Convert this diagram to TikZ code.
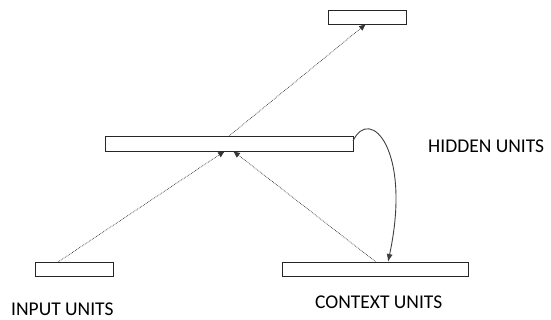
\documentclass[tikz,border=0pt]{standalone}
\usepackage{fontspec}
\setmainfont{Carlito}
\usetikzlibrary{arrows.meta}
\begin{document}
\begin{tikzpicture}[x=1pt,y=-1pt,
  unit/.style={draw=black!85,line width=0.9pt,fill=white,inner sep=0pt,anchor=north west},
  link/.style={densely dotted,draw=black!80,line width=0.7pt,-{Latex[length=7pt,width=6pt]}},
  label/.style={font=\fontsize{19.5}{20}\selectfont,text=black,inner sep=0pt}]
\useasboundingbox (0,0) rectangle (551,320);
% layers
\node[unit,minimum width=78pt,minimum height=14pt] (out) at (328,10) {};
\node[unit,minimum width=248pt,minimum height=15pt] (hid) at (105,136) {};
\node[unit,minimum width=78pt,minimum height=14pt] (inp) at (35,262) {};
\node[unit,minimum width=186pt,minimum height=14pt] (ctx) at (282,262) {};
% feed-forward connections
\coordinate (inpT) at (58,262);
\coordinate (ctxT) at (376,262);
\coordinate (hidB1) at (225,151);
\coordinate (hidB2) at (233,151);
\coordinate (hidT) at (229,136);
\coordinate (outB) at (366,24);
\draw[link] (inpT) -- (hidB1);
\draw[link] (ctxT) -- (hidB2);
\draw[link] (hidT) -- (outB);
% recurrent copy to context units
\coordinate (hidR) at (353,141);
\coordinate (ctxR) at (388,262);
\draw[draw=black!75,line width=0.9pt,-{Latex[length=8pt,width=6pt]}]
  (hidR) .. controls (370,105) and (412,150) .. (ctxR);
% labels
\node[label,anchor=west] (hl) at (428,146) {HIDDEN UNITS};
\node[label,anchor=west] (il) at (11,309) {INPUT UNITS};
\node[label,anchor=west] (cl) at (315,302) {CONTEXT UNITS};
\end{tikzpicture}
\end{document}
